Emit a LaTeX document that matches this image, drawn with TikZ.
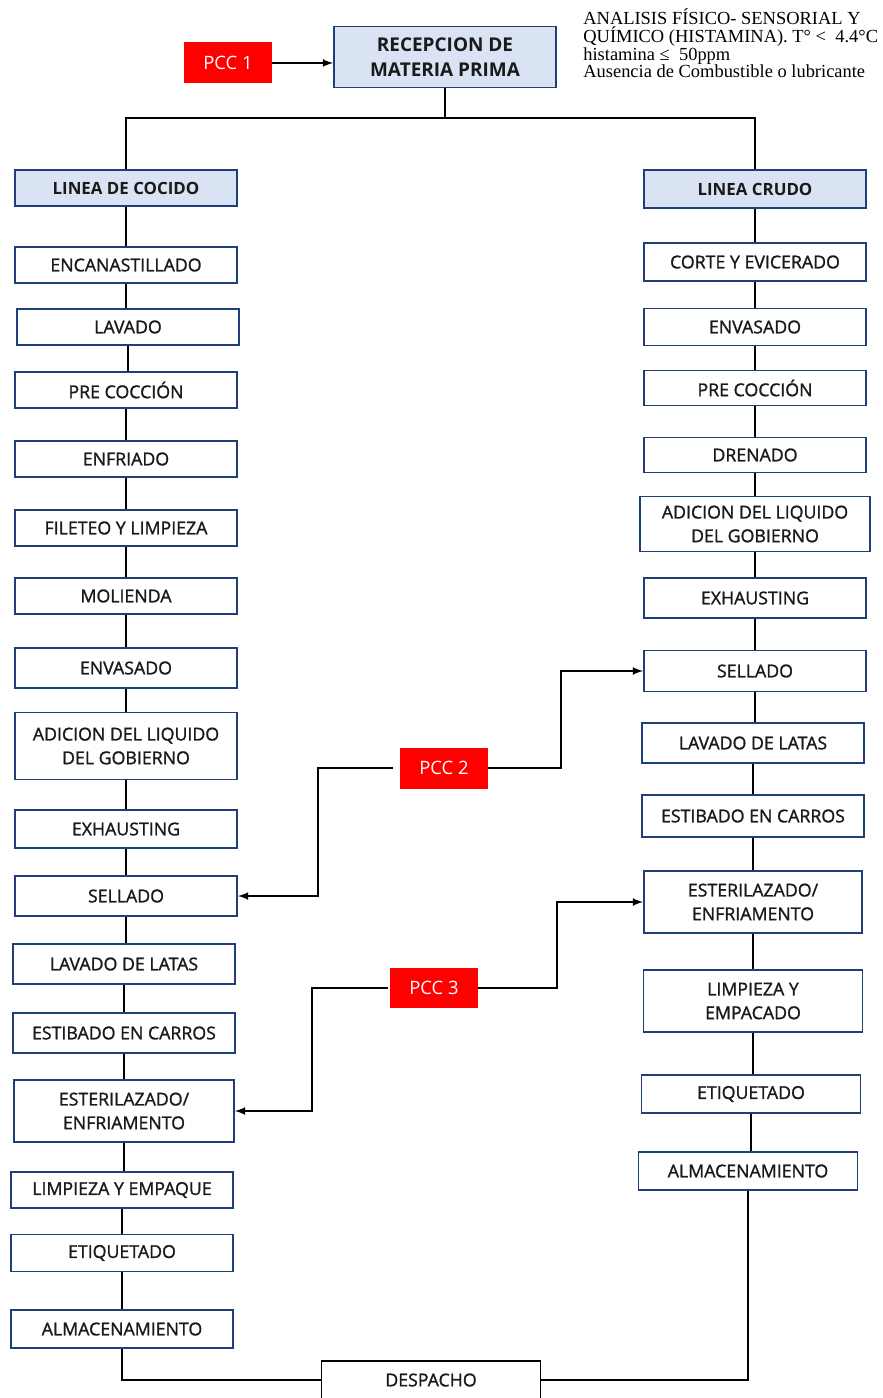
\documentclass[tikz,border=0pt]{standalone}
\usepackage{fontspec}
\setmainfont{Open Sans}
\newfontfamily\stepfont[FakeBold=1.3]{Open Sans}
\newfontfamily\notefont{Liberation Serif}
\usepackage{xcolor}
\usepackage{tikz}
\definecolor{boxline}{HTML}{203F7A}
\definecolor{headfill}{HTML}{DAE3F3}
\definecolor{pccred}{HTML}{FF0000}
\definecolor{steptext}{HTML}{1A1A1A}

\begin{document}
\begin{tikzpicture}[x=0.02cm, y=-0.02cm, >=latex,
  stepbox/.style={rectangle, draw=boxline, line width=1.1pt, fill=white, minimum width=4.44cm, minimum height=0.72cm, align=center, inner sep=2pt, text=steptext, font=\stepfont\fontsize{10.1}{13.5}\selectfont},
  headbox/.style={stepbox, fill=headfill, font=\fontsize{9.6}{13.5}\selectfont\bfseries},
  pccbox/.style={rectangle, fill=pccred, text=white, minimum width=1.76cm, minimum height=0.82cm, font=\fontsize{10.5}{11}\selectfont},
  link/.style={line width=1pt}]

\useasboundingbox (0,0) rectangle (882,1398);

% recepcion
\node[headbox, minimum height=1.22cm, font=\fontsize{10.8}{14}\selectfont\bfseries] (rec) at (445,57) {RECEPCION DE\\MATERIA PRIMA};
\node[pccbox] (pcc1) at (228,63) {PCC 1};
\node[anchor=north west, align=left, inner sep=0pt, font=\notefont\fontsize{10.5}{10.2}\selectfont] (note) at (583,8) {ANALISIS FÍSICO- SENSORIAL Y\\QUÍMICO (HISTAMINA). T° <\ \ 4.4°C\\histamina ≤\ \ 50ppm\\Ausencia de Combustible o lubricante};

% linea de cocido
\node[headbox] (lcoc) at (126,188) {LINEA DE COCIDO};
\node[stepbox] (l1) at (126,265) {ENCANASTILLADO};
\node[stepbox] (l2) at (128,327) {LAVADO};
\node[stepbox] (l3) at (126,390) {PRE COCCIÓN};
\node[stepbox] (l4) at (126,459) {ENFRIADO};
\node[stepbox] (l5) at (126,528) {FILETEO Y LIMPIEZA};
\node[stepbox] (l6) at (126,596) {MOLIENDA};
\node[stepbox, minimum height=0.8cm] (l7) at (126,668) {ENVASADO};
\node[stepbox, minimum height=1.34cm] (l8) at (126,746) {ADICION DEL LIQUIDO\\DEL GOBIERNO};
\node[stepbox, minimum height=0.76cm] (l9) at (126,829) {EXHAUSTING};
\node[stepbox, minimum height=0.8cm] (l10) at (126,896) {SELLADO};
\node[stepbox, minimum height=0.8cm] (l11) at (124,964) {LAVADO DE LATAS};
\node[stepbox, minimum height=0.8cm] (l12) at (124,1033) {ESTIBADO EN CARROS};
\node[stepbox, minimum height=1.24cm, minimum width=4.4cm] (l13) at (124,1111) {ESTERILAZADO/\\ENFRIAMENTO};
\node[stepbox] (l14) at (122,1190) {LIMPIEZA Y EMPAQUE};
\node[stepbox, minimum height=0.74cm] (l15) at (122,1253) {ETIQUETADO};
\node[stepbox, minimum height=0.76cm] (l16) at (122,1329) {ALMACENAMIENTO};

% linea crudo
\node[headbox, minimum height=0.76cm] (rcru) at (755,189) {LINEA CRUDO};
\node[stepbox, minimum height=0.76cm] (r1) at (755,262) {CORTE Y EVICERADO};
\node[stepbox, minimum height=0.74cm] (r2) at (755,327) {ENVASADO};
\node[stepbox, minimum height=0.7cm] (r3) at (755,388) {PRE COCCIÓN};
\node[stepbox, minimum height=0.7cm] (r4) at (755,455) {DRENADO};
\node[stepbox, minimum height=1.1cm, minimum width=4.6cm] (r5) at (755,524) {ADICION DEL LIQUIDO\\DEL GOBIERNO};
\node[stepbox, minimum height=0.8cm] (r6) at (755,598) {EXHAUSTING};
\node[stepbox, minimum height=0.82cm] (r7) at (755,671) {SELLADO};
\node[stepbox, minimum height=0.8cm] (r8) at (753,743) {LAVADO DE LATAS};
\node[stepbox, minimum height=0.84cm] (r9) at (753,816) {ESTIBADO EN CARROS};
\node[stepbox, minimum height=1.24cm, minimum width=4.36cm] (r10) at (753,902) {ESTERILAZADO/\\ENFRIAMENTO};
\node[stepbox, minimum height=1.24cm, minimum width=4.38cm] (r11) at (753,1001) {LIMPIEZA Y\\EMPACADO};
\node[stepbox, minimum height=0.76cm, minimum width=4.38cm] (r12) at (751,1094) {ETIQUETADO};
\node[stepbox, minimum height=0.76cm, minimum width=4.38cm] (r13) at (748,1171) {ALMACENAMIENTO};

% despacho y pcc
\node[stepbox, draw=black, minimum height=0.76cm, minimum width=4.38cm] (desp) at (431,1380) {DESPACHO};
\node[pccbox] (pcc2) at (444,768) {PCC 2};
\node[pccbox, minimum height=0.8cm] (pcc3) at (434,988) {PCC 3};

% conexiones
\coordinate (split) at (445,118);
\draw[link] (rec.south) -- (split);
\draw[link] (lcoc.north) |- (split) -| (rcru.north);
\draw[link,->] (pcc1.east) -- (pcc1.east -| rec.west);

\foreach \a/\b in {lcoc/l1, l1/l2, l2/l3, l3/l4, l4/l5, l5/l6, l6/l7, l7/l8, l8/l9, l9/l10, l10/l11, l11/l12, l12/l13, l13/l14, l14/l15, l15/l16}
  \draw[link] (\a.south) -- (\a.south |- \b.north);
\foreach \a/\b in {rcru/r1, r1/r2, r2/r3, r3/r4, r4/r5, r5/r6, r6/r7, r7/r8, r8/r9, r9/r10, r10/r11, r11/r12, r12/r13}
  \draw[link] (\a.south) -- (\a.south |- \b.north);

\draw[link] (l16.south) |- (desp.west);
\draw[link] (r13.south) |- (desp.east);

\draw[link,->] (pcc2.east) -- ++(73,0) |- (r7.west);
\draw[link,->, shorten <=0.14cm] (pcc2.west) -- ++(-82,0) |- (l10.east);
\draw[link,->] (pcc3.east) -- ++(79,0) |- (r10.west);
\draw[link,->, shorten <=0.04cm] (pcc3.west) -- ++(-78,0) |- (l13.east);

\end{tikzpicture}
\end{document}
